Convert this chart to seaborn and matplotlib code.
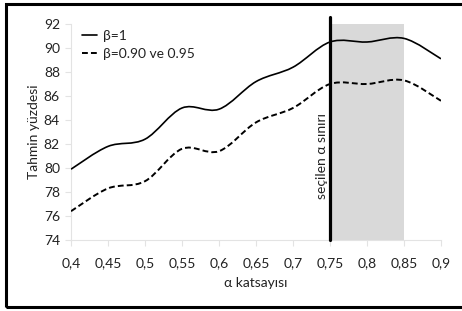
import numpy as np
import matplotlib
matplotlib.use("Agg")
import matplotlib.pyplot as plt
from matplotlib.path import Path
from matplotlib.patches import PathPatch, Rectangle
from matplotlib.lines import Line2D
import seaborn as sns

alpha = [0.4, 0.45, 0.5, 0.55, 0.6, 0.65, 0.7, 0.75, 0.8, 0.85, 0.9]
beta1 = [79.9, 81.8, 82.4, 85.0, 84.9, 87.2, 88.4, 90.5, 90.5, 90.8, 89.1]
beta09 = [76.4, 78.3, 78.9, 81.6, 81.4, 83.8, 85.0, 87.0, 87.0, 87.3, 85.6]
xticks = [0.4, 0.45, 0.5, 0.55, 0.6, 0.65, 0.7, 0.75, 0.8, 0.85, 0.9]
xticklabels = ["0,4", "0,45", "0,5", "0,55", "0,6", "0,65", "0,7", "0,75", "0,8", "0,85", "0,9"]
yticks = [74, 76, 78, 80, 82, 84, 86, 88, 90, 92]
selected = 0.75
band = (0.75, 0.85)

sns.set_theme(style="white")
plt.rcParams['font.family'] = ['Lato', 'DejaVu Sans']
FS = 10

fig = plt.figure(figsize=(4.62, 3.11), dpi=100)
ax = fig.add_axes([71/462, 1-240/311, 370/462, 216/311])


def smooth_path(xs, ys):
    P = np.column_stack([xs, ys]).astype(float)
    n = len(P)
    verts = [P[0]]
    codes = [Path.MOVETO]
    for i in range(n - 1):
        p0 = P[i - 1] if i > 0 else P[i]
        p1 = P[i]
        p2 = P[i + 1]
        p3 = P[i + 2] if i + 2 < n else P[i + 1]
        c1 = p1 + (p2 - p0) / 6
        c2 = p2 - (p3 - p1) / 6
        verts += [c1, c2, p2]
        codes += [Path.CURVE4] * 3
    return Path(verts, codes)


ax.axvspan(band[0], band[1], ymin=0, ymax=1, color="#d9d9d9", lw=0, zorder=1)

ax.add_patch(PathPatch(smooth_path(alpha, beta1), fill=False, ec="black", lw=1.2, zorder=3))
ax.add_patch(PathPatch(smooth_path(alpha, beta09), fill=False, ec="black", lw=1.4,
                       linestyle=(0, (3, 1.6)), zorder=3))

ax.plot([selected, selected], [74, 92.6], color="black", lw=2.3, clip_on=False, zorder=4)
ax.text(selected - 0.011, 77.4, "seçilen α sınırı", rotation=90, ha="center", va="bottom",
        fontsize=FS, color="#222222", zorder=5)

ax.set_xlim(0.4, 0.9)
ax.set_ylim(74, 92)
ax.set_xticks(xticks)
ax.set_xticklabels(xticklabels)
ax.set_yticks(yticks)
for s in ["top", "right"]:
    ax.spines[s].set_visible(False)
for s in ["left", "bottom"]:
    ax.spines[s].set_color("#e3e3e3")
    ax.spines[s].set_linewidth(0.8)
ax.tick_params(axis="both", which="both", length=4, width=0.8, color="#e3e3e3",
               labelsize=FS, labelcolor="#222222", pad=4, direction="out")
ax.tick_params(axis="x", pad=8)
ax.xaxis.set_ticks_position("bottom")
ax.yaxis.set_ticks_position("left")
ax.set_xlabel("α katsayısı", fontsize=FS, color="#222222", labelpad=6)
ax.set_ylabel("Tahmin yüzdesi", fontsize=FS, color="#222222", labelpad=3)

handles = [Line2D([], [], color="black", lw=1.2),
           Line2D([], [], color="black", lw=1.4, linestyle=(0, (3, 1.6)))]
leg = ax.legend(handles, ["β=1", "β=0.90 ve 0.95"], loc="upper left",
                bbox_to_anchor=(-0.005, 1.03), frameon=False, fontsize=FS,
                handlelength=1.1, handletextpad=0.45, labelspacing=0.45)
for t in leg.get_texts():
    t.set_color("#222222")

fig.patches.append(Rectangle((6/462, 4/311), 1.0, 303/311, transform=fig.transFigure,
                             fill=False, ec="black", lw=2.2, clip_on=False))

fig.savefig("out.png", dpi=100)
